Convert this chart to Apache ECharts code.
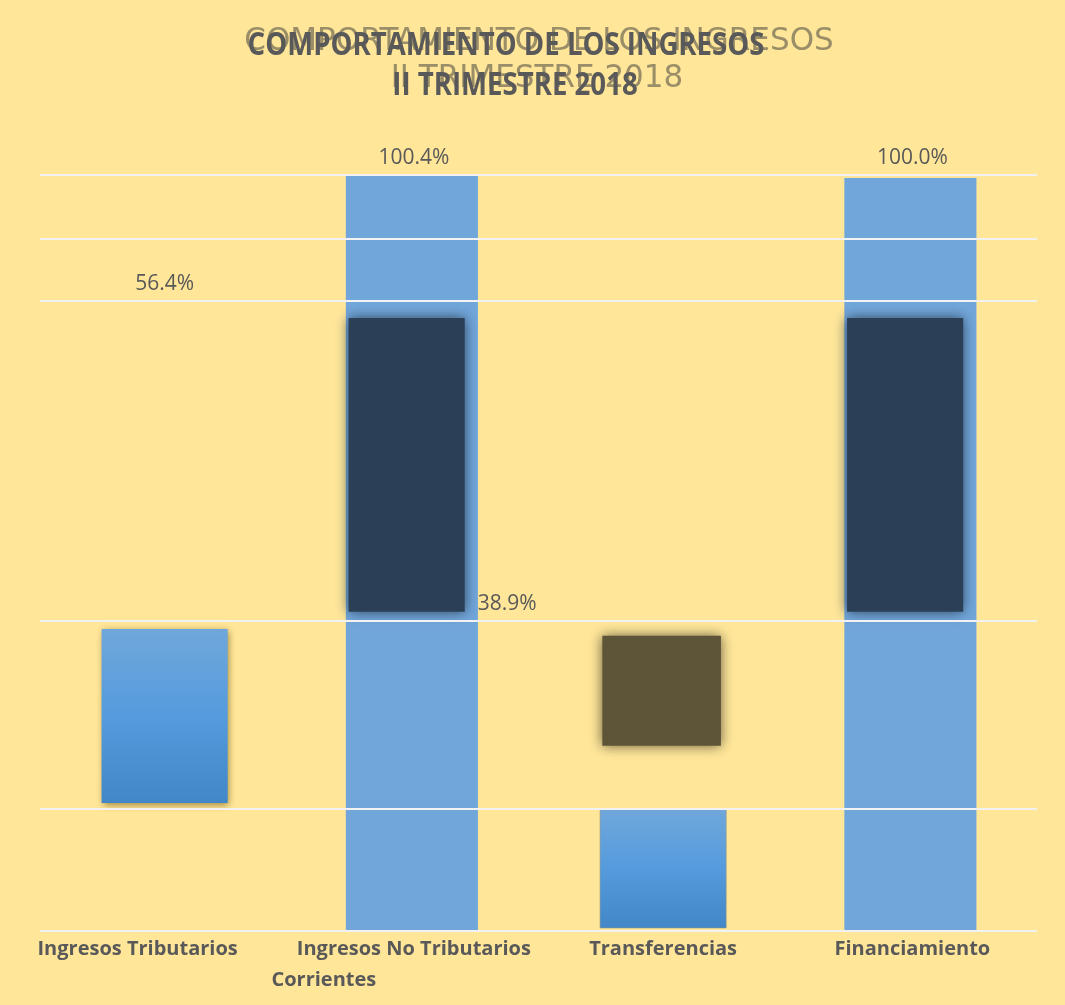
<!DOCTYPE html>
<html>
<head>
<meta charset="utf-8">
<script src="https://cdn.jsdelivr.net/npm/echarts@6/dist/echarts.min.js"></script>
<style>html,body{margin:0;padding:0;background:#FFE699;}#chart{width:1065px;height:1005px;}</style>
</head>
<body>
<div id="chart"></div>
<script>
// ---------- data ----------
const categories = ['Ingresos Tributarios', 'Ingresos No Tributarios\nCorrientes', 'Transferencias', 'Financiamiento'];
const pctValues = [56.4, 100.4, 38.9, 100.0];
// blue segment extents as drawn (%, low / high)
const blueLow  = [17.0, 0, 0.4, 0];
const blueHigh = [40.1, 100.4, 16.2, 100.0];
// dark overlay blocks (%, low / high); null = none
const navyLow  = [null, 42.0, null, 42.0];
const navyHigh = [null, 81.8, null, 81.8];
const oliveLow  = [null, null, 24.2, null];
const oliveHigh = [null, null, 39.6, null];
// horizontal reference lines (%)
const gridValues = [0, 16.3, 41.2, 83.7, 92.0, 100.4];
// where each value label is anchored: category slot and value (%)
const labelSlot   = [0, 1, 1, 3];
const labelAnchor = [85.9, 102.7, 43.4, 102.7];
const titleLines = ['COMPORTAMIENTO DE LOS INGRESOS', 'II TRIMESTRE 2018'];

// ---------- styles ----------
const blueKind = ['gradient', 'flat', 'gradient', 'flat'];
const labelPlace = [
  { dx: 0, align: 'center' },
  { dx: 0, align: 'center' },
  { dx: 0.256, align: 'left' },
  { dx: 0, align: 'center' }
];
const GREY = '#595959';
const GHOST = 'rgba(105,100,80,0.68)';

function pairs(low, high) {
  const out = [];
  low.forEach((lo, i) => { if (lo !== null) out.push([i, lo, high[i]]); });
  return out;
}

function rectRenderer(widthFrac, offFrac, inset, styleOf) {
  return function (params, api) {
    const cat = api.value(0);
    const top = api.coord([cat, api.value(2)]);
    const bot = api.coord([cat, api.value(1)]);
    const band = api.size([1, 0])[0];
    const w = band * widthFrac - 2 * inset;
    const x = top[0] - w / 2 + band * offFrac;
    return {
      type: 'rect',
      shape: { x: x, y: top[1] + inset, width: w, height: bot[1] - top[1] - 2 * inset },
      style: styleOf(cat)
    };
  };
}

const blueGrad = () => new echarts.graphic.LinearGradient(0, 0, 0, 1, [
  { offset: 0, color: '#70A7DB' },
  { offset: 0.5, color: '#559BDD' },
  { offset: 1, color: '#4287C7' }
]);

const blueData = pairs(blueLow, blueHigh);
const flatData = blueData.filter(d => blueKind[d[0]] === 'flat');
const gradData = blueData.filter(d => blueKind[d[0]] === 'gradient');

const labelData = pctValues.map((v, i) => [labelSlot[i], labelAnchor[i], v.toFixed(1) + '%']);

const chart = echarts.init(document.getElementById('chart'));
chart.setOption({
  backgroundColor: '#FFE699',
  animation: false,
  graphic: [
    { type: 'text', z: 1, x: 539, y: 42, scaleY: 1.05, style: { text: titleLines[0], font: '31px "DejaVu Sans"', fill: GHOST, align: 'center', verticalAlign: 'middle', shadowBlur: 5, shadowColor: GHOST } },
    { type: 'text', z: 1, x: 537, y: 79, scaleY: 1.05, style: { text: titleLines[1], font: '31px "DejaVu Sans"', fill: GHOST, align: 'center', verticalAlign: 'middle', shadowBlur: 5, shadowColor: GHOST } },
    { type: 'text', z: 2, x: 506, y: 46, scaleY: 1.14, style: { text: titleLines[0], font: 'bold 27.6px "Open Sans"', fill: GREY, align: 'center', verticalAlign: 'middle' } },
    { type: 'text', z: 2, x: 515, y: 86, scaleY: 1.14, style: { text: titleLines[1], font: 'bold 27.6px "Open Sans"', fill: GREY, align: 'center', verticalAlign: 'middle' } }
  ],
  grid: { left: 40, right: 28, top: 175, bottom: 74, containLabel: false },
  xAxis: {
    type: 'category',
    data: categories,
    axisTick: { show: false },
    axisLine: { show: false },
    splitLine: { show: false },
    axisLabel: {
      interval: 0,
      margin: 3,
      hideOverlap: false,
      formatter: function (v, i) {
        const parts = v.split('\n');
        if (parts.length > 1) return '{w|' + parts[0] + '}\n{s|' + parts[1] + '}';
        return i === 0 ? '{f|' + v + '}' : '{n|' + v + '}';
      },
      rich: {
        n: { fontFamily: 'Open Sans', fontWeight: 'bold', fontSize: 20, color: GREY, lineHeight: 31, align: 'center' },
        f: { fontFamily: 'Open Sans', fontWeight: 'bold', fontSize: 20, color: GREY, lineHeight: 31, align: 'center', padding: [0, 54, 0, 0] },
        w: { fontFamily: 'Open Sans', fontWeight: 'bold', fontSize: 20, color: GREY, lineHeight: 31, align: 'center' },
        s: { fontFamily: 'Open Sans', fontWeight: 'bold', fontSize: 20, color: GREY, lineHeight: 31, align: 'center', padding: [0, 180, 0, 0] }
      }
    }
  },
  yAxis: {
    type: 'value', min: 0, max: 100.4,
    axisLabel: { show: false }, axisLine: { show: false }, axisTick: { show: false }, splitLine: { show: false }
  },
  series: [
    {
      type: 'custom', name: 'flat', z: 2,
      encode: { x: 0, y: [1, 2] },
      data: flatData,
      renderItem: rectRenderer(0.53, -0.008, 0, () => ({ fill: '#71A6DA' })),
      markLine: {
        silent: true, symbol: 'none', z: 5,
        label: { show: false },
        lineStyle: { color: '#F2F2F2', width: 2, type: 'solid' },
        data: gridValues.map(v => ({ yAxis: v }))
      }
    },
    {
      type: 'custom', name: 'gradient', z: 2,
      encode: { x: 0, y: [1, 2] },
      data: gradData,
      renderItem: rectRenderer(0.506, 0, 0, (cat) => cat === 0
        ? { fill: blueGrad(), shadowBlur: 7, shadowOffsetX: 1, shadowOffsetY: 2, shadowColor: 'rgba(90,70,0,0.6)' }
        : { fill: blueGrad(), stroke: 'rgba(150,150,130,0.6)', lineWidth: 1 })
    },
    {
      type: 'custom', name: 'navy', z: 3,
      encode: { x: 0, y: [1, 2] },
      data: pairs(navyLow, navyHigh),
      renderItem: rectRenderer(0.49, -0.029, 3, () => ({ fill: '#2B3F56', shadowBlur: 12, shadowColor: 'rgba(43,63,86,0.95)' }))
    },
    {
      type: 'custom', name: 'olive', z: 3,
      encode: { x: 0, y: [1, 2] },
      data: pairs(oliveLow, oliveHigh),
      renderItem: rectRenderer(0.5, -0.006, 3, () => ({ fill: '#5E5539', shadowBlur: 12, shadowColor: 'rgba(94,85,57,0.95)' }))
    },
    {
      type: 'custom', name: 'labels', z: 10,
      encode: { x: 0, y: 1 },
      data: labelData,
      renderItem: function (params, api) {
        const i = params.dataIndex;
        const p = api.coord([api.value(0), api.value(1)]);
        const band = api.size([1, 0])[0];
        const pl = labelPlace[i];
        return {
          type: 'text',
          x: p[0] + pl.dx * band,
          y: p[1],
          style: { text: labelData[i][2], font: '21px "Open Sans"', fill: GREY, align: pl.align, verticalAlign: 'middle' }
        };
      }
    }
  ]
});
</script>
</body>
</html>
